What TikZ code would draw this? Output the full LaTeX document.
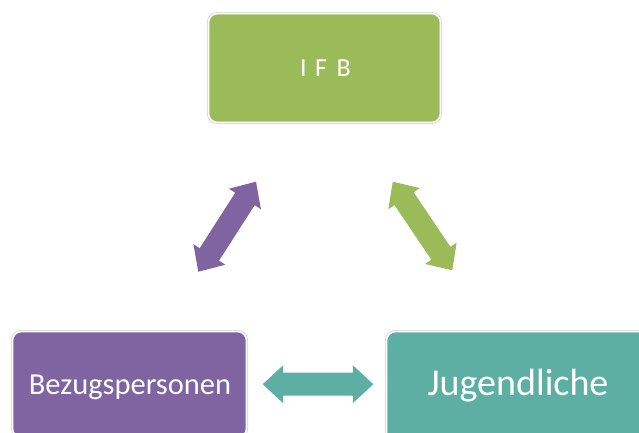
\documentclass[tikz,border=0pt]{standalone}
\usepackage{fontspec}
\setmainfont{Carlito}
\usetikzlibrary{calc}
\definecolor{ifbgreen}{RGB}{155,187,89}
\definecolor{bzpurple}{RGB}{128,100,162}
\definecolor{jteal}{RGB}{93,175,164}
\definecolor{rimgray}{RGB}{205,205,205}
% double-headed block arrow between two named coordinates
\newcommand\dblarrow[3]{%
  \coordinate (h1) at ($(#1)!20.5pt!(#2)$);
  \coordinate (h2) at ($(#2)!20.5pt!(#1)$);
  \fill[arrowshape=#3] (#1)
    -- ($(h1)!19pt!90:(#2)$) -- ($(h1)!11.5pt!90:(#2)$)
    -- ($(h2)!11.5pt!-90:(#1)$) -- ($(h2)!19pt!-90:(#1)$)
    -- (#2)
    -- ($(h2)!19pt!90:(#1)$) -- ($(h2)!11.5pt!90:(#1)$)
    -- ($(h1)!11.5pt!-90:(#2)$) -- ($(h1)!19pt!-90:(#2)$)
    -- cycle;}
\begin{document}
\begin{tikzpicture}[x=1pt,y=-1pt,
  box/.style={rectangle, rounded corners=9pt, inner sep=0pt,
    preaction={draw=rimgray, line width=3pt},
    draw=white, line width=1.6pt},
  lbl/.style={text=white, anchor=base, inner sep=0pt},
  arrowshape/.style={fill=#1, draw=none}]
\useasboundingbox (0,0) rectangle (639,432);
\clip (0,0) rectangle (639,432);

% boxes
\node[box, fill=ifbgreen, minimum width=232pt, minimum height=109pt] (ifb) at (324.5,68) {};
\node[box, fill=bzpurple, minimum width=234pt, minimum height=106pt] (bzp) at (129.5,384.5) {};
\node[box, fill=jteal, minimum width=266pt, minimum height=110pt] (jug) at (519.5,386.5) {};

% labels
\node[lbl, font=\fontsize{26}{26}\selectfont] (ifbtext) at (325.5,76.5) {I\hspace{8.5pt}F\hspace{9.5pt}B};
\node[lbl, font=\fontsize{30.5}{30.5}\selectfont] (bzptext) at (130,394.3) {Bezugspersonen};
\node[lbl, font=\fontsize{38}{38}\selectfont] (jugtext) at (518,395.7) {Jugendliche};

% arrow end points
\coordinate (pa) at (198.3,271.7);
\coordinate (pb) at (256,181.7);
\coordinate (ga) at (392.7,181.7);
\coordinate (gb) at (452.3,270.3);
\coordinate (ta) at (262.7,384.2);
\coordinate (tb) at (373.3,384.2);

\dblarrow{pa}{pb}{bzpurple}
\dblarrow{ga}{gb}{ifbgreen}
\dblarrow{ta}{tb}{jteal}
\end{tikzpicture}
\end{document}
